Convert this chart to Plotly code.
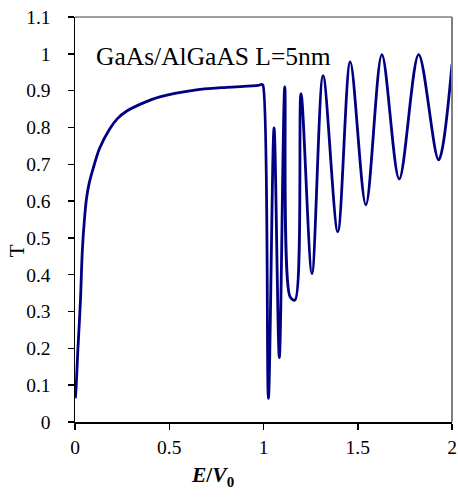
import plotly.graph_objects as go

# Transmission coefficient T vs E/V0
energy = [0.0, 0.002, 0.016, 0.029, 0.039, 0.05, 0.061, 0.075, 0.096, 0.13, 0.184, 0.225, 0.273, 0.36, 0.45, 0.627,
          0.804, 0.972, 0.99, 0.997, 1.026, 1.056, 1.084, 1.113, 1.141, 1.167,
          1.199, 1.257, 1.316, 1.394, 1.460, 1.543, 1.628, 1.720, 1.823, 1.929, 2.0]
transmission = [0.065, 0.068, 0.204, 0.331, 0.467, 0.55, 0.607, 0.648, 0.688, 0.743, 0.796, 0.824, 0.844, 0.866, 0.883, 0.901,
                0.909, 0.914, 0.917, 0.915, 0.064, 0.799, 0.175, 0.910, 0.340, 0.331,
                0.892, 0.403, 0.941, 0.517, 0.978, 0.590, 0.998, 0.660, 0.998, 0.712, 0.971]

x_ticks = [0, 0.5, 1, 1.5, 2]
x_tick_text = ["0", "0.5", "1", "1.5", "2"]
y_ticks = [0, 0.1, 0.2, 0.3, 0.4, 0.5, 0.6, 0.7, 0.8, 0.9, 1.0, 1.1]
y_tick_text = ["0", "0.1", "0.2", "0.3", "0.4", "0.5", "0.6", "0.7", "0.8", "0.9", "1", "1.1"]

label_text = "GaAs/AlGaAS L=5nm"

FONT = "Liberation Serif, Times New Roman, serif"

fig = go.Figure()
fig.add_trace(go.Scatter(
    x=energy, y=transmission, mode="lines",
    line=dict(color="#000080", width=2.8, shape="spline", smoothing=0.9),
    showlegend=False, hoverinfo="skip", cliponaxis=True,
))

fig.update_layout(
    width=458, height=498,
    margin=dict(l=75, r=6, t=17, b=76),
    paper_bgcolor="white", plot_bgcolor="white",
    font=dict(family=FONT, size=19, color="black"),
    xaxis=dict(
        range=[0, 2], tickvals=x_ticks, ticktext=x_tick_text, automargin=False,
        showgrid=False, zeroline=False, showline=True, linecolor="black", linewidth=1.5,
        ticks="outside", ticklen=6, tickwidth=1.5, tickcolor="black",
        ticklabelstandoff=1,
        tickfont=dict(family=FONT, size=19.5, color="black"),
    ),
    yaxis=dict(
        range=[0, 1.1], tickvals=y_ticks, ticktext=y_tick_text, automargin=False,
        showgrid=False, zeroline=False, showline=True, linecolor="black", linewidth=1.5,
        ticks="outside", ticklen=6, tickwidth=1.5, tickcolor="black",
        ticklabelstandoff=13,
        tickfont=dict(family=FONT, size=19.5, color="black"),
    ),
    shapes=[
        dict(type="line", xref="paper", yref="paper", x0=0, x1=1, y0=1, y1=1,
             line=dict(color="#808080", width=1.5)),
        dict(type="line", xref="paper", yref="paper", x0=1, x1=1, y0=0, y1=1,
             line=dict(color="#808080", width=2)),
    ],
    annotations=[
        dict(text=label_text, xref="x", yref="y", x=0.1, y=0.993,
             xanchor="left", yanchor="middle", showarrow=False,
             font=dict(family=FONT, size=25.5, color="black")),
        dict(text="<b><i>E</i>/<i>V</i><sub>0</sub></b>", xref="x", yref="paper",
             x=0.73, y=-0.135, xanchor="center", yanchor="middle", showarrow=False,
             font=dict(family=FONT, size=21.5, color="black")),
        dict(text="T", xref="paper", yref="y", x=-0.155, y=0.465,
             xanchor="center", yanchor="middle", showarrow=False, textangle=-90,
             font=dict(family=FONT, size=21, color="black")),
    ],
)

fig.write_html("out.html", config={"displayModeBar": False, "staticPlot": True})

# remove the browser's default page margin so the figure sits at the window origin
with open("out.html", "r", encoding="utf-8") as f:
    html = f.read()
html = html.replace("<head>", "<head><style>html,body{margin:0;padding:0;overflow:hidden;}</style>", 1)
with open("out.html", "w", encoding="utf-8") as f:
    f.write(html)
